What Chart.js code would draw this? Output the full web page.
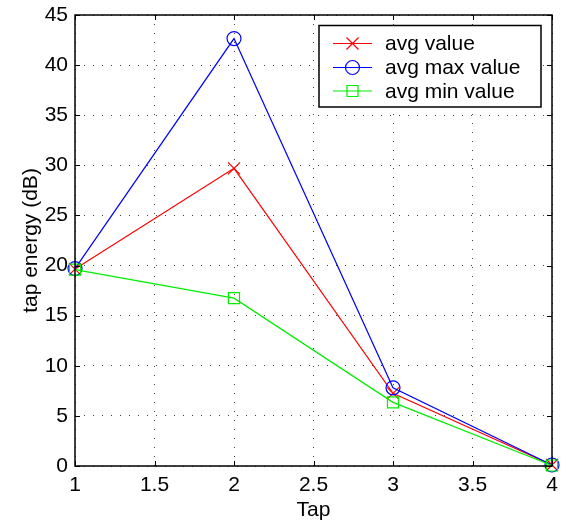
<!DOCTYPE html>
<html>
<head>
<meta charset="utf-8">
<script src="https://cdn.jsdelivr.net/npm/chart.js@4.4.1/dist/chart.umd.min.js"></script>
<style>
html,body{margin:0;padding:0;background:#fff;}
canvas{display:block;}
</style>
</head>
<body>
<canvas id="c" width="570" height="528"></canvas>
<script>
const taps = [1, 2, 3, 4];
const avgValue = [19.65, 29.7, 7.25, 0.1];
const avgMaxValue = [19.7, 42.65, 7.8, 0.1];
const avgMinValue = [19.6, 16.75, 6.35, 0.05];
const seriesNames = ['avg value', 'avg max value', 'avg min value'];
const xTicks = [1, 1.5, 2, 2.5, 3, 3.5, 4];
const yTicks = [0, 5, 10, 15, 20, 25, 30, 35, 40, 45];

const FONT = 'Liberation Sans, Arial, Helvetica, sans-serif';
const FS = 21;

function pts(vals){ return taps.map((t,i)=>({x:t, y:vals[i]})); }

const datasets = [
  {label: seriesNames[0], data: pts(avgValue), borderColor:'#ff0000', pointStyle:'crossRot', pointRadius:8.5, order:2},
  {label: seriesNames[1], data: pts(avgMaxValue), borderColor:'#0000ff', pointStyle:'circle', pointRadius:7, order:1},
  {label: seriesNames[2], data: pts(avgMinValue), borderColor:'#00ee00', pointStyle:'rect', pointRadius:7.8, order:0}
].map(d => Object.assign({
  borderWidth:1.2, pointBorderColor:d.borderColor, pointBackgroundColor:'rgba(0,0,0,0)',
  pointBorderWidth:1.2, pointHoverRadius:d.pointRadius, tension:0, fill:false, clip:false
}, d));

const boxPlugin = {
  id:'box',
  afterDraw(chart){
    const ctx = chart.ctx, a = chart.chartArea;
    const xs = chart.scales.x, ys = chart.scales.y;
    ctx.save();
    ctx.strokeStyle = '#000';
    ctx.lineWidth = 1.5;
    ctx.strokeRect(a.left, a.top, a.right - a.left, a.bottom - a.top);
    ctx.lineWidth = 1;
    ctx.beginPath();
    const tl = 5;
    xTicks.forEach(v => {
      const px = Math.round(xs.getPixelForValue(v)) + 0.5;
      ctx.moveTo(px, a.bottom); ctx.lineTo(px, a.bottom - tl);
      ctx.moveTo(px, a.top); ctx.lineTo(px, a.top + tl);
    });
    yTicks.forEach(v => {
      const py = Math.round(ys.getPixelForValue(v)) + 0.5;
      ctx.moveTo(a.left, py); ctx.lineTo(a.left + tl, py);
      ctx.moveTo(a.right, py); ctx.lineTo(a.right - tl, py);
    });
    ctx.stroke();

    // legend
    const L = 319, T = 25.5, R = 541, B = 107;
    ctx.fillStyle = '#fff';
    ctx.fillRect(L, T, R - L, B - T);
    ctx.lineWidth = 1.5;
    ctx.strokeStyle = '#000';
    ctx.strokeRect(L, T, R - L, B - T);
    const rows = [43.5, 67.5, 91];
    chart.data.datasets.forEach((d, i) => {
      const y = rows[i];
      ctx.strokeStyle = d.borderColor;
      ctx.fillStyle = 'rgba(0,0,0,0)';
      ctx.lineWidth = 1.2;
      ctx.beginPath(); ctx.moveTo(333, y); ctx.lineTo(372, y); ctx.stroke();
      Chart.helpers.drawPoint(ctx, {pointStyle:d.pointStyle, radius:d.pointRadius, borderWidth:1.2}, 352.5, y);
      ctx.fillStyle = '#000';
      ctx.font = FS + 'px ' + FONT;
      ctx.textBaseline = 'middle';
      ctx.textAlign = 'left';
      ctx.fillText(d.label, 385, y + 1);
    });
    ctx.restore();
  }
};

new Chart(document.getElementById('c'), {
  type:'line',
  data:{datasets},
  options:{
    responsive:false, animation:false,
    layout:{padding:{left:0, right:18, top:15, bottom:0}},
    plugins:{legend:{display:false}, tooltip:{enabled:false}},
    scales:{
      x:{
        type:'linear', min:1, max:4,
        afterBuildTicks(s){ s.ticks = xTicks.map(v=>({value:v})); },
        afterFit(s){ s.height = 62; s.paddingLeft = 0; s.paddingRight = 0; },
        ticks:{color:'#000', font:{family:FONT, size:FS}, padding:7, maxRotation:0, autoSkip:false,
               callback:(v)=>String(v)},
        grid:{color:'#444', lineWidth:1, drawTicks:false, tickLength:0},
        border:{display:false, dash:[1,8]},
        title:{display:true, text:'Tap', color:'#000', font:{family:FONT, size:FS}, padding:{top:0,bottom:5}}
      },
      y:{
        type:'linear', min:0, max:45,
        afterBuildTicks(s){ s.ticks = yTicks.map(v=>({value:v})); },
        afterFit(s){ s.width = 75; s.paddingTop = 0; s.paddingBottom = 0; },
        ticks:{color:'#000', font:{family:FONT, size:FS}, padding:7, autoSkip:false,
               callback:(v)=>String(v)},
        grid:{color:'#444', lineWidth:1, drawTicks:false, tickLength:0},
        border:{display:false, dash:[1,8]},
        title:{display:true, text:'tap energy (dB)', color:'#000', font:{family:FONT, size:FS}, padding:{top:19,bottom:0}}
      }
    }
  },
  plugins:[boxPlugin]
});
</script>
</body>
</html>
